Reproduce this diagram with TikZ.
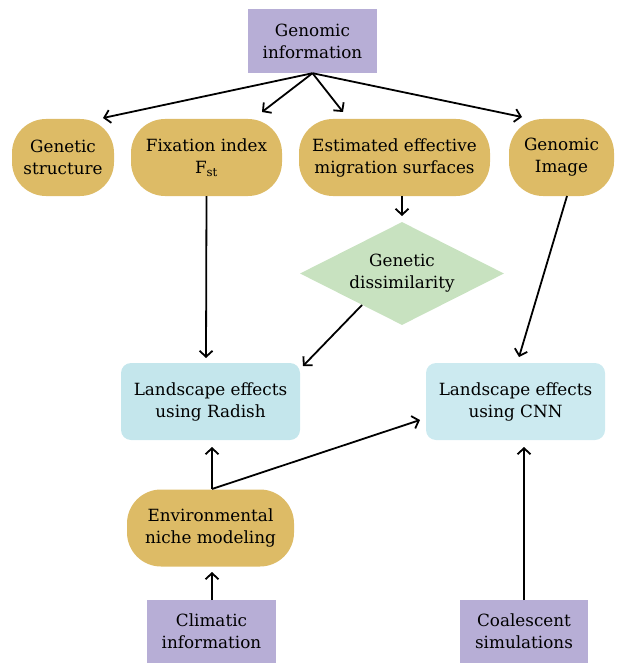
\documentclass[tikz,border=0pt]{standalone}
\usepackage{fontspec}
\setmainfont{DejaVu Serif}
\usetikzlibrary{arrows.meta,shapes.geometric}
\definecolor{purp}{RGB}{183,174,214}
\definecolor{gold}{RGB}{221,187,102}
\definecolor{dgreen}{RGB}{200,226,192}
\definecolor{lblue}{RGB}{196,230,236}
\definecolor{lblueb}{RGB}{204,234,240}
\begin{document}
\begin{tikzpicture}[x=1pt,y=-1pt,
  every node/.style={font=\fontsize{16.8}{22}\selectfont, align=center, inner sep=0pt},
  infobox/.style={fill=purp, minimum width=#1, minimum height=64pt},
  pill/.style={fill=gold, rounded corners=34pt, minimum height=77pt, minimum width=#1},
  resbox/.style={fill=lblue, rounded corners=10pt, minimum width=179pt, minimum height=77pt},
  conn/.style={draw=black, line width=1.8pt, -{Straight Barb[length=6pt,width=13pt,line width=1.8pt]}}
]
\useasboundingbox (0,0) rectangle (623,663);
\node[infobox=129pt] (gen) at (312.5,41) {Genomic\\information};
\node[pill=102pt] (gs) at (63,157.5) {Genetic\\structure};
\node[pill=151pt] (fix) at (206.5,157.5) {Fixation index\\F\textsubscript{st}};
\node[pill=191pt] (eems) at (394.5,157.5) {Estimated effective\\migration surfaces};
\node[pill=105pt] (gi) at (561.5,157.5) {Genomic\\Image};
\node[diamond, fill=dgreen, minimum width=204pt, minimum height=103pt] (dis) at (402,273.5) {};
\node (distext) at (dis.center) {Genetic\\dissimilarity};
\node[resbox] (rad) at (210.5,401.5) {Landscape effects\\using Radish};
\node[resbox, fill=lblueb] (cnn) at (515.5,401.5) {Landscape effects\\using CNN};
\node[pill=167pt] (enm) at (210.5,528) {Environmental\\niche modeling};
\node[infobox=129pt, minimum height=63pt] (clim) at (211.5,631.5) {Climatic\\information};
\node[infobox=128pt, minimum height=63pt] (coal) at (524,631.5) {Coalescent\\simulations};
% connectors
\coordinate (g0) at (gen.south);
\draw[conn] (g0) -- (103,118);
\draw[conn] (g0) -- (262,112);
\draw[conn] (g0) -- (343,112);
\draw[conn] (g0) -- (522,117);
\draw[conn] (fix.south) -- (206,358);
\draw[conn] (402,196) -- (402,216);
\draw[conn] (362,305) -- (303,366);
\draw[conn] (567,196) -- (519,357);
\coordinate (e0) at (212,489);
\draw[conn] (e0) -- (212,447);
\draw[conn] (e0) -- (420,420);
\draw[conn] (212,600) -- (212,572);
\draw[conn] (524,600) -- (524,447);
\end{tikzpicture}
\end{document}
